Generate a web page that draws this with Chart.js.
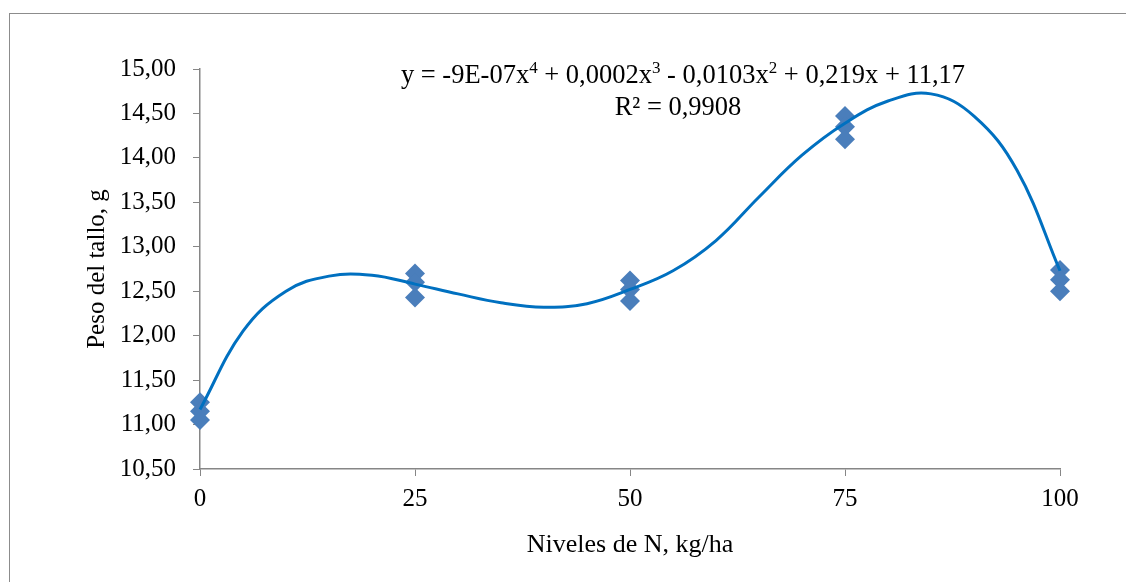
<html>
  <head>
    <style>
      body { margin: 0; background: #fff; }
      #wrap { position: relative; width: 1126px; height: 582px; overflow: hidden; }
      #frame { position: absolute; left: 9px; top: 13px; width: 1130px; height: 600px; border: 1px solid #8c8c8c; }
      #myChart { position: absolute; left: 0; top: 0; }
    </style>
  </head>

  <body>
    <div id="wrap">
      <div id="frame"></div>
      <canvas id="myChart" width="1126" height="582"></canvas>
    </div>

    <script src="https://cdn.jsdelivr.net/npm/chart.js@4/dist/chart.umd.min.js"></script>
    <script>
      // observaciones (3 repeticiones por nivel)
      const niveles = [0, 0, 0, 25, 25, 25, 50, 50, 50, 75, 75, 75, 100, 100, 100]
      const peso = [11.25, 11.15, 11.05, 12.7, 12.6, 12.43, 12.62, 12.52, 12.39, 14.47, 14.35, 14.21, 12.74, 12.63, 12.5]

      // linea de tendencia, cada 5 kg/ha
      const tendX = [0, 5, 10, 15, 20, 25, 30, 35, 40, 45, 50, 55, 60, 65, 70, 75, 80, 85, 90, 95, 100]
      const tendY = [11.17, 12.05, 12.5, 12.67, 12.68, 12.58, 12.47, 12.37, 12.32, 12.36, 12.52, 12.73, 13.07, 13.56, 14.03, 14.39, 14.64, 14.72, 14.47, 13.86, 12.73]

      const xTicks = [0, 25, 50, 75, 100]
      const yTicks = [10.5, 11, 11.5, 12, 12.5, 13, 13.5, 14, 14.5, 15]

      const ecuacion = [['y = -9E-07x', ''], ['4', 'sup'], [' + 0,0002x', ''], ['3', 'sup'], [' - 0,0103x', ''], ['2', 'sup'], [' + 0,219x + 11,17', '']]
      const r2 = 'R² = 0,9908'

      const serif = '"Liberation Serif", "Times New Roman", serif'
      const gris = '#868686'

      function drawRuns(ctx, runs, cx, y) {
        let w = 0
        runs.forEach(([t, k]) => {
          ctx.font = (k ? '17px ' : '26.5px ') + serif
          w += ctx.measureText(t).width
        })
        let x = cx - w / 2
        runs.forEach(([t, k]) => {
          ctx.font = (k ? '17px ' : '26.5px ') + serif
          ctx.fillText(t, x, k ? y - 10 : y)
          x += ctx.measureText(t).width
        })
      }

      const textos = {
        id: 'textos',
        afterDraw(chart) {
          const ctx = chart.ctx
          ctx.save()
          ctx.fillStyle = '#000'
          ctx.textBaseline = 'alphabetic'
          ctx.textAlign = 'left'
          drawRuns(ctx, ecuacion, 683, 83)
          ctx.font = '26.5px ' + serif
          ctx.textAlign = 'center'
          ctx.fillText(r2, 678, 115)
          ctx.restore()
        },
      }

      const fmt = (v) => v.toFixed(2).replace('.', ',')

      let chart = new Chart(document.getElementById('myChart'), {
        type: 'scatter',
        data: {
          datasets: [
            {
              label: 'Peso',
              data: niveles.map((x, i) => ({ x: x, y: peso[i] })),
              pointStyle: 'rectRot',
              pointRadius: 10,
              pointHoverRadius: 10,
              backgroundColor: '#4a7ebb',
              borderColor: '#4a7ebb',
              borderWidth: 0,
              clip: false,
              order: 2,
            },
            {
              label: 'Tendencia',
              type: 'line',
              data: tendX.map((x, i) => ({ x: x, y: tendY[i] })),
              borderColor: '#0070c0',
              borderWidth: 3,
              pointRadius: 0,
              fill: false,
              tension: 0.4,
              clip: 4,
              order: 1,
            },
          ],
        },
        options: {
          responsive: false,
          animation: false,
          events: [],
          layout: { padding: { left: 78, right: 66, top: 69, bottom: 21 } },
          plugins: { legend: { display: false }, tooltip: { enabled: false } },
          scales: {
            x: {
              type: 'linear',
              min: 0,
              max: 100,
              afterBuildTicks: (s) => { s.ticks = xTicks.map((v) => ({ value: v })) },
              afterFit: (s) => { s.height = 582 - 21 - 469 },
              grid: { drawOnChartArea: false, drawTicks: true, tickLength: 7, color: gris },
              border: { color: gris, width: 1.5 },
              ticks: { color: '#000', padding: 8, font: { family: serif, size: 25 } },
              title: { display: true, text: 'Niveles de N, kg/ha', color: '#000', padding: { top: 4, bottom: 0 }, font: { family: serif, size: 26 } },
            },
            y: {
              min: 10.5,
              max: 15,
              afterBuildTicks: (s) => { s.ticks = yTicks.map((v) => ({ value: v })) },
              afterFit: (s) => { s.width = 200 - 78 },
              grid: { drawOnChartArea: false, drawTicks: true, tickLength: 7, color: gris },
              border: { color: gris, width: 1.5 },
              ticks: { color: '#000', padding: 17, font: { family: serif, size: 25 }, callback: (v) => fmt(v) },
              title: { display: true, text: 'Peso del tallo, g', color: '#000', padding: { top: 4, bottom: 0 }, font: { family: serif, size: 25 } },
            },
          },
        },
        plugins: [textos],
      })
    </script>
  </body>
</html>
